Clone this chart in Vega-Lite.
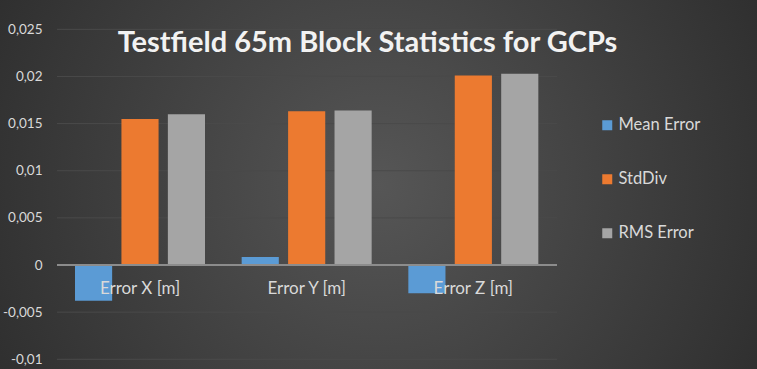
{
  "$schema": "https://vega.github.io/schema/vega-lite/v6.json",
  "width": 757,
  "height": 369,
  "autosize": {"type": "none"},
  "padding": 0,
  "background": "#2a2a2a",
  "view": {
    "stroke": null,
    "fill": {
      "gradient": "radial",
      "x1": 0.5, "y1": 0.5, "r1": 0,
      "x2": 0.5, "y2": 0.5, "r2": 0.75,
      "stops": [
        {"offset": 0, "color": "#565656"},
        {"offset": 1, "color": "#222222"}
      ]
    }
  },
  "config": {
    "font": "Lato",
    "text": {"font": "Lato"}
  },
  "title": {
    "text": "Testfield 65m Block Statistics for GCPs",
    "orient": "top",
    "anchor": "middle",
    "offset": -58,
    "dx": -11,
    "fontSize": 29,
    "fontWeight": "bold",
    "font": "Lato",
    "color": "#f2f2f2"
  },
  "datasets": {
    "bars": [
      {"category": "Error X [m]", "series": "Mean Error", "value": -0.0038},
      {"category": "Error X [m]", "series": "StdDiv", "value": 0.0155},
      {"category": "Error X [m]", "series": "RMS Error", "value": 0.016},
      {"category": "Error Y [m]", "series": "Mean Error", "value": 0.00085},
      {"category": "Error Y [m]", "series": "StdDiv", "value": 0.0163},
      {"category": "Error Y [m]", "series": "RMS Error", "value": 0.0164},
      {"category": "Error Z [m]", "series": "Mean Error", "value": -0.003},
      {"category": "Error Z [m]", "series": "StdDiv", "value": 0.0201},
      {"category": "Error Z [m]", "series": "RMS Error", "value": 0.0203}
    ],
    "ticks": [
      {"v": -0.01}, {"v": -0.005}, {"v": 0.005}, {"v": 0.01},
      {"v": 0.015}, {"v": 0.02}, {"v": 0.025}
    ],
    "labels": [
      {"category": "Error X [m]"},
      {"category": "Error Y [m]"},
      {"category": "Error Z [m]"}
    ]
  },
  "resolve": {"scale": {"x": "independent"}},
  "layer": [
    {
      "data": {"name": "ticks"},
      "mark": {"type": "rule", "color": "#4a4a4a", "strokeWidth": 1},
      "encoding": {
        "y": {
          "field": "v", "type": "quantitative",
          "scale": {"domain": [-0.01103, 0.02811], "nice": false, "zero": false},
          "axis": {
            "orient": "left",
            "offset": -57,
            "values": [-0.01, -0.005, 0, 0.005, 0.01, 0.015, 0.02, 0.025],
            "labelExpr": "replace(toString(datum.value), '.', ',')",
            "labelPadding": 15,
            "labelFontSize": 13.5,
            "labelColor": "#d9d9d9",
            "labelFont": "Lato",
            "domain": false,
            "ticks": false,
            "grid": false,
            "title": null
          }
        },
        "x": {"datum": 0, "type": "quantitative", "scale": {"domain": [-0.114, 1.4]}, "axis": null},
        "x2": {"datum": 1}
      }
    },
    {
      "layer": [
        {
          "data": {"name": "bars"},
          "mark": {"type": "bar"},
          "encoding": {
            "x": {
              "field": "category", "type": "nominal",
              "scale": {"paddingInner": 0.22, "paddingOuter": 0.881, "align": 0.2554},
              "axis": null
            },
            "xOffset": {
              "field": "series", "type": "nominal",
              "sort": ["Mean Error", "StdDiv", "RMS Error"],
              "scale": {"paddingInner": 0.2}
            },
            "y": {"field": "value", "type": "quantitative"},
            "color": {
              "field": "series", "type": "nominal",
              "sort": ["Mean Error", "StdDiv", "RMS Error"],
              "scale": {"domain": ["Mean Error", "StdDiv", "RMS Error"], "range": ["#5b9bd5", "#ec7a30", "#a5a5a5"]},
              "legend": {
                "orient": "none",
                "legendX": 599,
                "legendY": 117,
                "title": null,
                "symbolType": "square",
                "symbolSize": 100,
                "symbolStrokeWidth": 0,
                "labelFontSize": 16.5,
                "labelFont": "Lato",
                "labelColor": "#d9d9d9",
                "labelOffset": 3,
                "rowPadding": 37
              }
            }
          }
        },
        {
          "data": {"name": "labels"},
          "mark": {"type": "text", "dy": 24, "fontSize": 17, "font": "Lato", "color": "#d9d9d9"},
          "encoding": {
            "x": {"field": "category", "type": "nominal"},
            "y": {"datum": 0, "type": "quantitative"},
            "text": {"field": "category"}
          }
        }
      ]
    },
    {
      "data": {"values": [{"v": 0}]},
      "mark": {"type": "rule", "color": "#8c8c8c", "strokeWidth": 2},
      "encoding": {
        "y": {"field": "v", "type": "quantitative"},
        "x": {"datum": 0, "type": "quantitative", "scale": {"domain": [-0.114, 1.4]}, "axis": null},
        "x2": {"datum": 1}
      }
    }
  ]
}
